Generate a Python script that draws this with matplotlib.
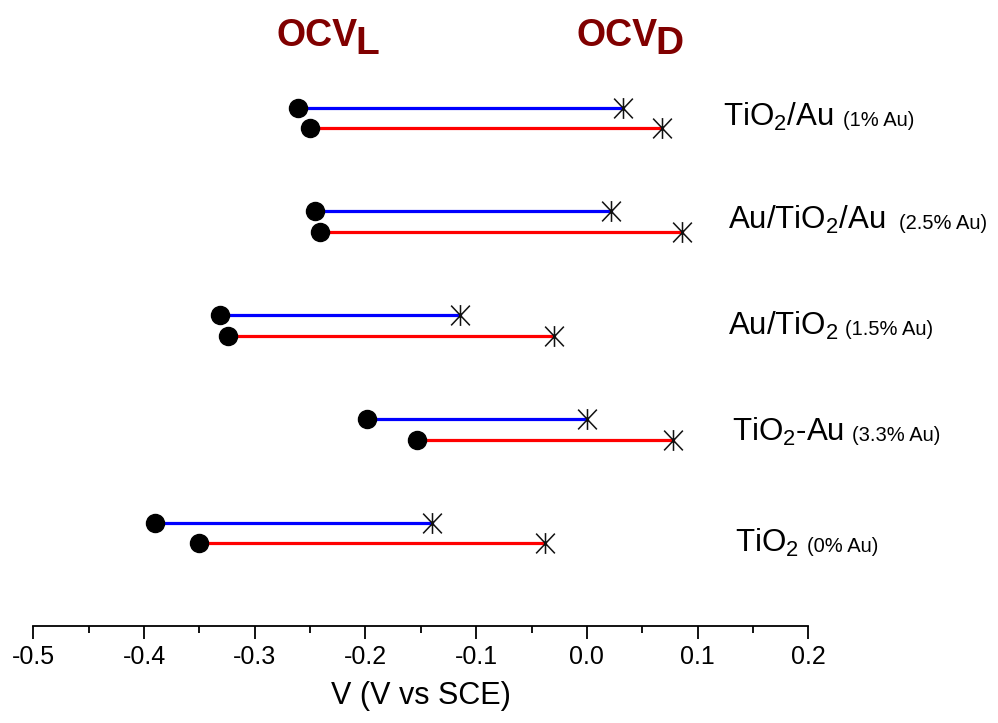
import matplotlib
matplotlib.use("Agg")
import matplotlib.pyplot as plt
from matplotlib.path import Path
from matplotlib.ticker import MultipleLocator

plt.rcParams['font.family'] = ['Liberation Sans', 'DejaVu Sans']
plt.rcParams['mathtext.fontset'] = 'custom'
plt.rcParams['mathtext.rm'] = 'Liberation Sans'
plt.rcParams['mathtext.it'] = 'Liberation Sans:italic'
plt.rcParams['mathtext.bf'] = 'Liberation Sans:bold'

# samples, bottom to top
samples = [r'TiO$_\mathrm{2}$', r'TiO$_\mathrm{2}$-Au', r'Au/TiO$_\mathrm{2}$',
           r'Au/TiO$_\mathrm{2}$/Au', r'TiO$_\mathrm{2}$/Au']
au_pct = ['(0% Au)', '(3.3% Au)', '(1.5% Au)', '(2.5% Au)', '(1% Au)']

# open circuit voltages (V vs SCE)
blue_ocv_l = [-0.390, -0.199, -0.331, -0.246, -0.2605]
blue_ocv_d = [-0.140, 0.000, -0.115, 0.022, 0.033]
red_ocv_l = [-0.350, -0.153, -0.324, -0.241, -0.250]
red_ocv_d = [-0.038, 0.078, -0.030, 0.086, 0.068]

# label layout (data coords)
label_x = [0.134, 0.1313, 0.1277, 0.1277, 0.1231]
label_y = [-0.180, 0.890, 1.908, 2.930, 3.923]
pct_x = [0.1987, 0.2396, 0.2335, 0.2821, 0.2317]

# asterisk marker: vertical + X
star = Path([(0, -1), (0, 1), (-0.9, -0.95), (0.9, 0.95), (-0.9, 0.95), (0.9, -0.95)],
            [Path.MOVETO, Path.LINETO, Path.MOVETO, Path.LINETO, Path.MOVETO, Path.LINETO])

fig = plt.figure(figsize=(9.98, 7.23), dpi=100)
ax = fig.add_axes([33.3 / 998, (723 - 626) / 723, (808.3 - 33.3) / 998, 626 / 723])

off = 0.1
for i in range(len(samples)):
    yb = i + off
    yr = i - off
    ax.plot([blue_ocv_l[i], blue_ocv_d[i]], [yb, yb], color='#0000ff', lw=2.3, zorder=2)
    ax.plot([red_ocv_l[i], red_ocv_d[i]], [yr, yr], color='#ff0000', lw=2.3, zorder=2)
    ax.plot([blue_ocv_l[i], red_ocv_l[i]], [yb, yr], ls='none', marker='o', ms=13,
            color='black', zorder=3)
    ax.plot([blue_ocv_d[i], red_ocv_d[i]], [yb, yr], ls='none', marker=star, ms=15,
            mec='#111111', mfc='none', mew=1.1, zorder=3)
    ax.text(label_x[i], label_y[i], samples[i], fontsize=22.5, va='baseline', ha='left',
            clip_on=False)
    ax.text(pct_x[i], label_y[i], au_pct[i], fontsize=14.5, va='baseline', ha='left',
            clip_on=False)

ax.set_xlim(-0.5, 0.2)
ax.set_ylim(-0.896, 5.137)
ax.xaxis.set_minor_locator(MultipleLocator(0.05))
ax.set_xticks([-0.5, -0.4, -0.3, -0.2, -0.1, 0.0, 0.1, 0.2])
ax.set_xticklabels(['-0.5', '-0.4', '-0.3', '-0.2', '-0.1', '0.0', '0.1', '0.2'])
ax.tick_params(axis='x', which='major', direction='out', length=9, width=1.3,
               labelsize=18, pad=5)
ax.tick_params(axis='x', which='minor', direction='out', length=5, width=1.3)
ax.set_yticks([])
for s in ['left', 'right', 'top']:
    ax.spines[s].set_visible(False)
ax.spines['bottom'].set_linewidth(1.3)
ax.set_xlabel('V (V vs SCE)', fontsize=22, labelpad=8)

# OCV headers
dark_red = '#800000'
fig.text(276 / 998, 1 - 36 / 723, 'OCV', fontsize=27, fontweight='bold', color=dark_red,
         ha='left', va='center')
fig.text(355 / 998, 1 - 44 / 723, 'L', fontsize=28, fontweight='bold', color=dark_red,
         ha='left', va='center')
fig.text(577 / 998, 1 - 36 / 723, 'OCV', fontsize=27, fontweight='bold', color=dark_red,
         ha='left', va='center')
fig.text(655 / 998, 1 - 44 / 723, 'D', fontsize=28, fontweight='bold', color=dark_red,
         ha='left', va='center')

fig.savefig('out.png', dpi=100)
